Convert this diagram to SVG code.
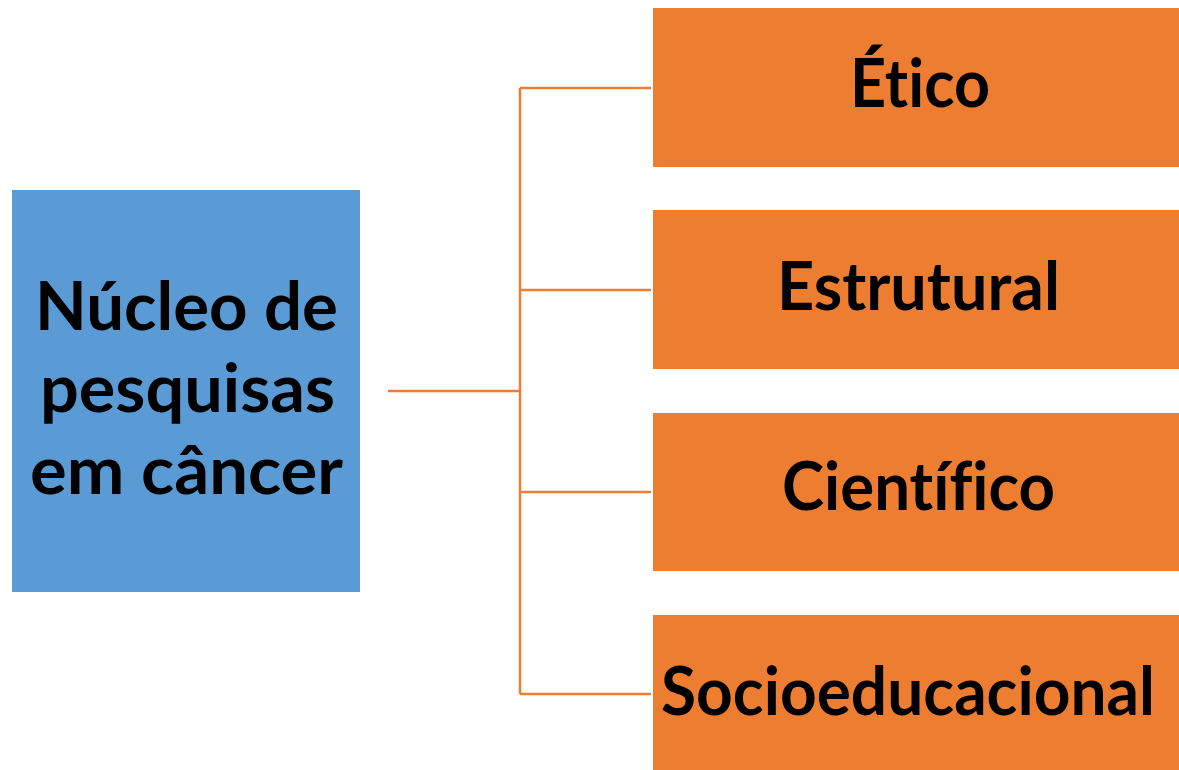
<svg xmlns="http://www.w3.org/2000/svg" width="1179" height="770" viewBox="0 0 1179 770">
<style>
.lbl{font-family:Lato,"Open Sans","Liberation Sans",sans-serif;font-weight:bold;font-size:67px;fill:#000;text-anchor:middle;font-variant-ligatures:none;font-feature-settings:"liga" 0,"clig" 0,"dlig" 0}
.blue{fill:#5B9BD5}
.org{fill:#ED7D31}
.conn{stroke:#ED7D31;stroke-width:2.5;fill:none}
</style>
<rect width="1179" height="770" fill="#fff"/>
<g id="connectors">
<path class="conn" d="M388 391H520M520 88V694M520 88H651M520 290H651M520 492H651M520 694H651"/>
</g>
<g id="node-nucleo">
<rect class="blue" x="12" y="190" width="348" height="402"/>
<text class="lbl" x="186.5" y="330" textLength="303" lengthAdjust="spacingAndGlyphs">Núcleo de</text>
<text class="lbl" x="187.5" y="412" textLength="295" lengthAdjust="spacingAndGlyphs">pesquisas</text>
<text class="lbl" x="186.5" y="494" textLength="313" lengthAdjust="spacingAndGlyphs">em câncer</text>
</g>
<g id="node-etico">
<rect class="org" x="653" y="8" width="526" height="159"/>
<text class="lbl" x="920" y="107" textLength="140" lengthAdjust="spacingAndGlyphs">Ético</text>
</g>
<g id="node-estrutural">
<rect class="org" x="653" y="210" width="526" height="159"/>
<text class="lbl" x="918.5" y="310" textLength="283" lengthAdjust="spacingAndGlyphs">Estrutural</text>
</g>
<g id="node-cientifico">
<rect class="org" x="653" y="413" width="526" height="158"/>
<text class="lbl" x="918.5" y="510" textLength="273" lengthAdjust="spacingAndGlyphs">Científico</text>
</g>
<g id="node-socioeducacional">
<rect class="org" x="653" y="615" width="526" height="155"/>
<text class="lbl" x="908" y="715" textLength="494" lengthAdjust="spacingAndGlyphs">Socioeducacional</text>
</g>
</svg>
